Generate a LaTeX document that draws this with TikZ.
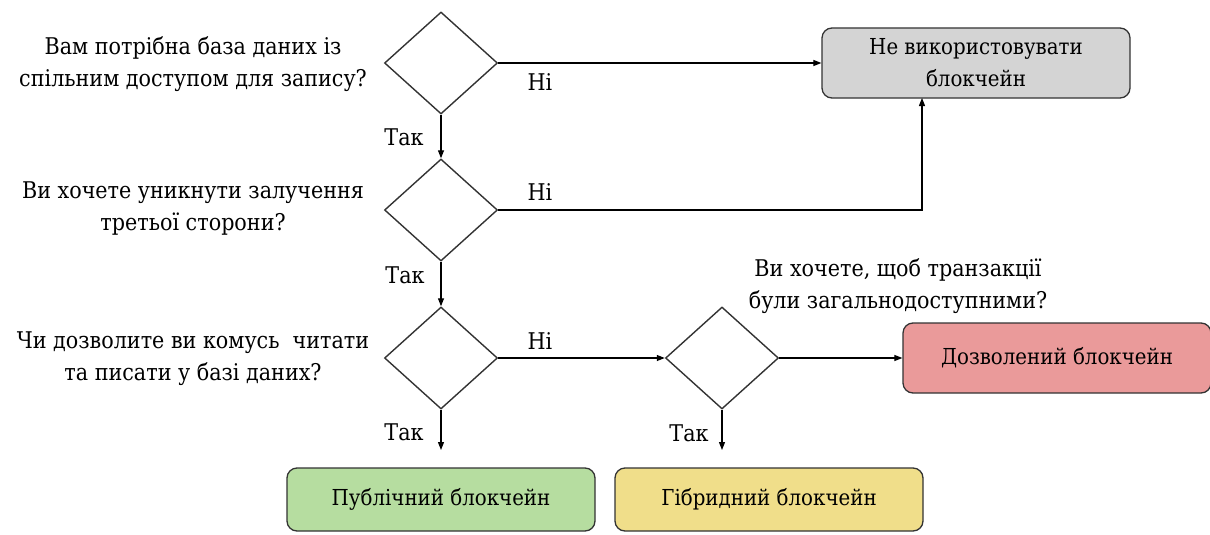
\documentclass[tikz,border=0pt]{standalone}
\usepackage{fontspec}
\setmainfont{DejaVu Serif}
\newfontfamily\tnr{DejaVu Serif Condensed}
\usetikzlibrary{shapes.geometric,arrows.meta}
\definecolor{boxgrey}{HTML}{D4D4D4}
\definecolor{boxred}{HTML}{EA9A9A}
\definecolor{boxgreen}{HTML}{B6DDA0}
\definecolor{boxyellow}{HTML}{F0DE8A}
\definecolor{edgegrey}{HTML}{333333}
\begin{document}
\begin{tikzpicture}[x=1pt,y=-1pt,
  txt/.style={font=\tnr\fontsize{23}{32}\selectfont, align=center, inner sep=0pt, text=black},
  decision/.style={shape=diamond, draw=edgegrey, line width=1.4pt, minimum width=113pt, minimum height=102pt, inner sep=0pt},
  outcome/.style={draw=edgegrey, line width=1.3pt, rounded corners=10pt, minimum width=308pt, align=center, font=\tnr\fontsize{22}{32}\selectfont, inner sep=0pt},
  flow/.style={draw=black, line width=1.2pt, -{Triangle[length=8pt,width=6pt]}},
  lbl/.style={font=\tnr\fontsize{23}{26}\selectfont, inner sep=0pt}
]
\useasboundingbox (0,0) rectangle (1210,535);

% decisions
\node[decision] (d1) at (441,63) {};
\node[decision] (d2) at (441,210) {};
\node[decision] (d3) at (441,358) {};
\node[decision] (d4) at (722,358) {};

% questions
\node[txt] (q1) at (193,64) {Вам потрібна база даних із\\спільним доступом для запису?};
\node[txt] (q2) at (193,209) {Ви хочете уникнути залучення\\третьої сторони?};
\node[txt] (q3) at (193,359) {Чи дозволите ви комусь\ \ читати\\та писати у базі даних?};
\node[txt] (q4) at (898,286) {Ви хочете, щоб транзакції\\були загальнодоступними?};

% outcomes
\node[outcome, fill=boxgrey, minimum height=70pt] (no) at (976,63) {Не використовувати\\блокчейн};
\node[outcome, fill=boxred, minimum height=70pt] (perm) at (1057,358) {Дозволений блокчейн};
\node[outcome, fill=boxgreen, minimum height=63pt] (pub) at (441,499.5) {Публічний блокчейн};
\node[outcome, fill=boxyellow, minimum height=63pt] (hyb) at (769,499.5) {Гібридний блокчейн};

% free ends
\coordinate (e3) at (441,450);
\coordinate (e4) at (722,450);
\coordinate (up) at (922,98);

% connectors
\draw[flow] (d1.east) -- (no.west);
\draw[flow] (d1.south) -- (d2.north);
\draw[flow] (d2.east) -| (up);
\draw[flow] (d2.south) -- (d3.north);
\draw[flow] (d3.east) -- (d4.west);
\draw[flow] (d4.east) -- (perm.west);
\draw[flow] (d3.south) -- (e3);
\draw[flow] (d4.south) -- (e4);

% labels
\node[lbl] (n1) at (540,82) {Ні};
\node[lbl] (n2) at (540,192) {Ні};
\node[lbl] (n3) at (540,341) {Ні};
\node[lbl] (t1) at (404,137) {Так};
\node[lbl] (t2) at (405,275) {Так};
\node[lbl] (t3) at (404,432) {Так};
\node[lbl] (t4) at (689,433) {Так};
\end{tikzpicture}
\end{document}
